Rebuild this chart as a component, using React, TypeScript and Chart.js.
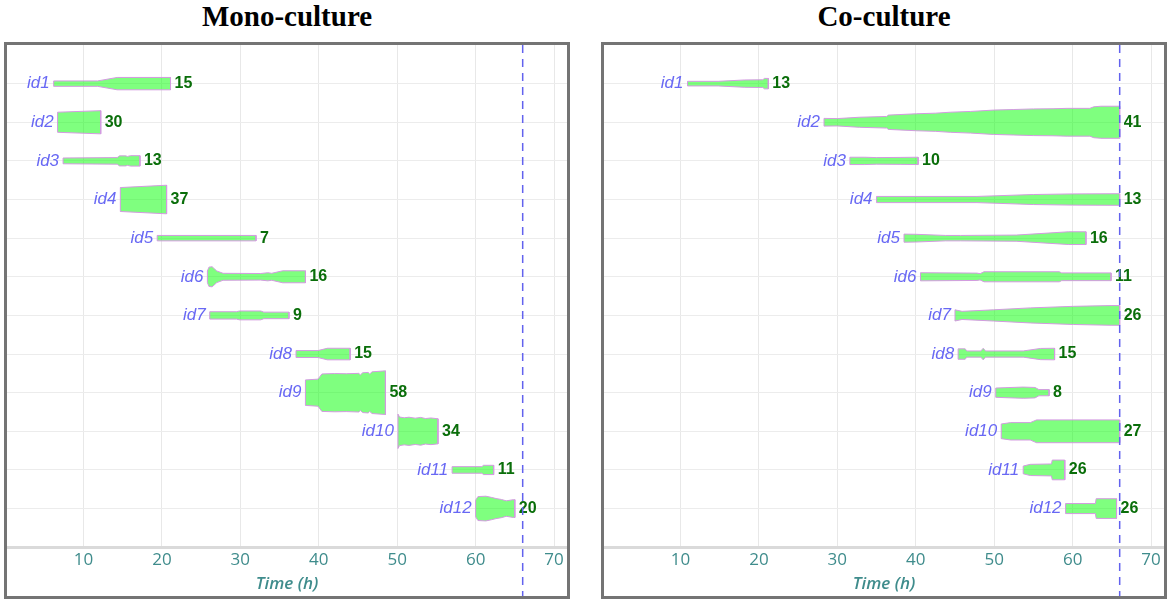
import React, { useEffect, useRef } from 'react';
import Chart from 'chart.js/auto';

// rows, top to bottom
const ROW_IDS = ['id1', 'id2', 'id3', 'id4', 'id5', 'id6', 'id7', 'id8', 'id9', 'id10', 'id11', 'id12'];

// cell count shown at the end of each lineage
const MONO_COUNTS = [15, 30, 13, 37, 7, 16, 9, 15, 58, 34, 11, 20];
const CO_COUNTS = [13, 41, 10, 13, 16, 11, 26, 15, 8, 27, 26, 26];

// [time (h), band width] read along each lineage
const MONO_SHAPES: number[][][] = [
  [[6.2, 0.14], [11.8, 0.14], [14.3, 0.32], [21.1, 0.32]],
  [[6.7, 0.52], [12.2, 0.6]],
  [[7.4, 0.15], [14.3, 0.17], [14.6, 0.26], [15.4, 0.26], [15.6, 0.23], [16.0, 0.27], [17.2, 0.27]],
  [[14.7, 0.62], [20.6, 0.74]],
  [[19.4, 0.14], [32.0, 0.14]],
  [[25.8, 0.3], [26.0, 0.5], [26.4, 0.52], [27.0, 0.3], [27.8, 0.18], [32.6, 0.17], [33.5, 0.21], [34.0, 0.18], [35.4, 0.31], [38.3, 0.31]],
  [[26.1, 0.19], [29.5, 0.19], [29.9, 0.23], [32.6, 0.23], [33.0, 0.17], [36.2, 0.17]],
  [[37.1, 0.18], [39.9, 0.18], [41.1, 0.3], [44.0, 0.3]],
  [[38.3, 0.66], [39.9, 0.7], [40.4, 0.97], [42.0, 0.99], [43.5, 0.98], [45.1, 1.0], [45.3, 0.92], [45.6, 1.03], [46.3, 1.05], [46.5, 0.97], [46.8, 1.08], [48.5, 1.13]],
  [[50.1, 0.89], [50.3, 0.74], [50.9, 0.7], [51.5, 0.73], [52.3, 0.68], [53.0, 0.72], [53.6, 0.66], [54.3, 0.69], [55.2, 0.65]],
  [[57.0, 0.17], [60.8, 0.17], [61.0, 0.24], [62.3, 0.24]],
  [[60.0, 0.43], [60.3, 0.62], [61.3, 0.64], [62.0, 0.58], [62.6, 0.52], [63.3, 0.47], [63.9, 0.4], [64.8, 0.46], [65.0, 0.46]],
];

const CO_SHAPES: number[][][] = [
  [[10.9, 0.12], [14.8, 0.12], [18.2, 0.19], [20.5, 0.2], [20.7, 0.27], [21.2, 0.27]],
  [[28.3, 0.2], [30.0, 0.19], [32.8, 0.26], [36.3, 0.3], [36.5, 0.37], [40.1, 0.44], [42.5, 0.47], [44.4, 0.52], [47.0, 0.56], [49.9, 0.63], [52.5, 0.66], [55.0, 0.69], [57.5, 0.7], [59.3, 0.72], [62.2, 0.72], [62.7, 0.8], [63.6, 0.83], [66.0, 0.83]],
  [[31.6, 0.19], [33.5, 0.19], [35.0, 0.17], [38.0, 0.18], [40.3, 0.19]],
  [[35.0, 0.16], [47.8, 0.16], [55.0, 0.26], [60.0, 0.29], [66.0, 0.3]],
  [[38.5, 0.21], [40.0, 0.2], [43.8, 0.14], [45.7, 0.14], [52.8, 0.16], [59.5, 0.33], [61.7, 0.33]],
  [[40.6, 0.21], [47.8, 0.19], [48.2, 0.16], [48.7, 0.26], [58.3, 0.26], [58.6, 0.2], [64.9, 0.2]],
  [[45.0, 0.29], [45.9, 0.21], [49.9, 0.29], [54.6, 0.39], [60.1, 0.47], [64.9, 0.51], [66.0, 0.51]],
  [[45.4, 0.27], [46.3, 0.27], [46.5, 0.16], [48.3, 0.16], [48.6, 0.3], [48.9, 0.16], [53.7, 0.16], [55.9, 0.29], [57.7, 0.3]],
  [[50.2, 0.24], [51.5, 0.26], [53.7, 0.29], [55.2, 0.27], [55.7, 0.16], [57.0, 0.16]],
  [[50.9, 0.38], [52.1, 0.45], [54.6, 0.45], [55.4, 0.59], [66.0, 0.59]],
  [[53.7, 0.2], [54.6, 0.29], [57.3, 0.31], [57.4, 0.51], [59.0, 0.51]],
  [[59.1, 0.26], [62.9, 0.26], [63.0, 0.51], [65.6, 0.51]],
];

const END_TIME = 66;

const TEAL = '#3f8c8c';

function buildDatasets(shapes: number[][][]) {
  return shapes.map((shape, i) => {
    const row = ROW_IDS.length - i;
    const upper = shape.map(([t, w]) => ({ x: t, y: row + w / 2 }));
    const lower = shape.slice().reverse().map(([t, w]) => ({ x: t, y: row - w / 2 }));
    return {
      label: ROW_IDS[i],
      data: [...upper, ...lower, upper[0]],
      fill: 'shape',
      backgroundColor: 'rgba(0, 255, 0, 0.5)',
      borderColor: '#d39ae0',
      borderWidth: 1,
      pointRadius: 0,
      tension: 0,
    };
  });
}

const Panel: React.FC<{ title: string; left: number; shapes: number[][][]; counts: number[] }> = ({ title, left, shapes, counts }) => {
  const canvasRef = useRef<HTMLCanvasElement | null>(null);

  useEffect(() => {
    if (!canvasRef.current) return;

    const labels = {
      id: 'rowLabels',
      afterDatasetsDraw(chart: any) {
        const { ctx, scales } = chart;
        ctx.save();
        ctx.textBaseline = 'middle';
        shapes.forEach((shape, i) => {
          const yPx = scales.y.getPixelForValue(ROW_IDS.length - i);
          const x0 = scales.x.getPixelForValue(shape[0][0]);
          const x1 = scales.x.getPixelForValue(shape[shape.length - 1][0]);
          ctx.font = 'italic 17px "Liberation Sans", Arial, sans-serif';
          ctx.fillStyle = '#6868f4';
          ctx.textAlign = 'right';
          ctx.fillText(ROW_IDS[i], x0 - 4, yPx);
          ctx.font = 'bold 16px "Liberation Sans", Arial, sans-serif';
          ctx.fillStyle = '#0a6e0a';
          ctx.textAlign = 'left';
          ctx.fillText(String(counts[i]), x1 + 4, yPx);
        });
        ctx.restore();
      },
      afterDraw(chart: any) {
        const { ctx, scales } = chart;
        const xPx = scales.x.getPixelForValue(END_TIME);
        ctx.save();
        ctx.strokeStyle = '#6262ee';
        ctx.lineWidth = 1.5;
        ctx.setLineDash([8, 6]);
        ctx.beginPath();
        ctx.moveTo(xPx, 0);
        ctx.lineTo(xPx, chart.height);
        ctx.stroke();
        ctx.restore();
      },
    };

    const chart = new Chart(canvasRef.current, {
      type: 'line',
      data: { datasets: buildDatasets(shapes) as any },
      options: {
        animation: false,
        responsive: true,
        maintainAspectRatio: false,
        events: [],
        layout: { padding: 0 },
        plugins: { legend: { display: false }, tooltip: { enabled: false } },
        scales: {
          x: {
            type: 'linear',
            min: 0.25,
            max: 71.65,
            grid: { color: '#e8e8e8', drawTicks: false },
            border: { display: true, color: '#dadada', width: 3 },
            ticks: {
              stepSize: 10,
              includeBounds: false,
              padding: 3,
              color: TEAL,
              font: { family: '"Open Sans", sans-serif', size: 17 },
            },
            title: {
              display: true,
              text: 'Time (h)',
              color: TEAL,
              font: { family: '"Open Sans", sans-serif', size: 17, style: 'italic', weight: '600' },
              padding: { top: 0, bottom: 2 },
            },
          },
          y: {
            type: 'linear',
            min: 0,
            max: 13,
            ticks: { display: false, stepSize: 1 },
            grid: {
              drawTicks: false,
              color: (c: any) => (c.tick && c.tick.value > 0 && c.tick.value < 13 ? '#ececec' : 'rgba(0,0,0,0)'),
            },
            border: { display: false },
          },
        },
      },
      plugins: [labels],
    });

    return () => chart.destroy();
  }, [shapes, counts]);

  return (
    <div style={{ position: 'absolute', left, top: 0, width: 566 }}>
      <div
        style={{
          height: 42,
          lineHeight: '34px',
          textAlign: 'center',
          font: 'bold 29px "Liberation Serif", "Times New Roman", serif',
          color: '#000',
        }}
      >
        {title}
      </div>
      <div
        style={{
          position: 'absolute',
          top: 42,
          left: 0,
          width: 566,
          height: 557,
          boxSizing: 'border-box',
          border: '3px solid #747474',
        }}
      >
        <div style={{ position: 'relative', width: 560, height: 551 }}>
          <canvas ref={canvasRef} />
        </div>
      </div>
    </div>
  );
};

const App: React.FC = () => {
  useEffect(() => {
    document.body.style.margin = '0';
  }, []);

  return (
    <div style={{ position: 'relative', width: 1170, height: 602, background: '#fff' }}>
      <Panel title="Mono-culture" left={4} shapes={MONO_SHAPES} counts={MONO_COUNTS} />
      <Panel title="Co-culture" left={601} shapes={CO_SHAPES} counts={CO_COUNTS} />
    </div>
  );
};

export default App;
